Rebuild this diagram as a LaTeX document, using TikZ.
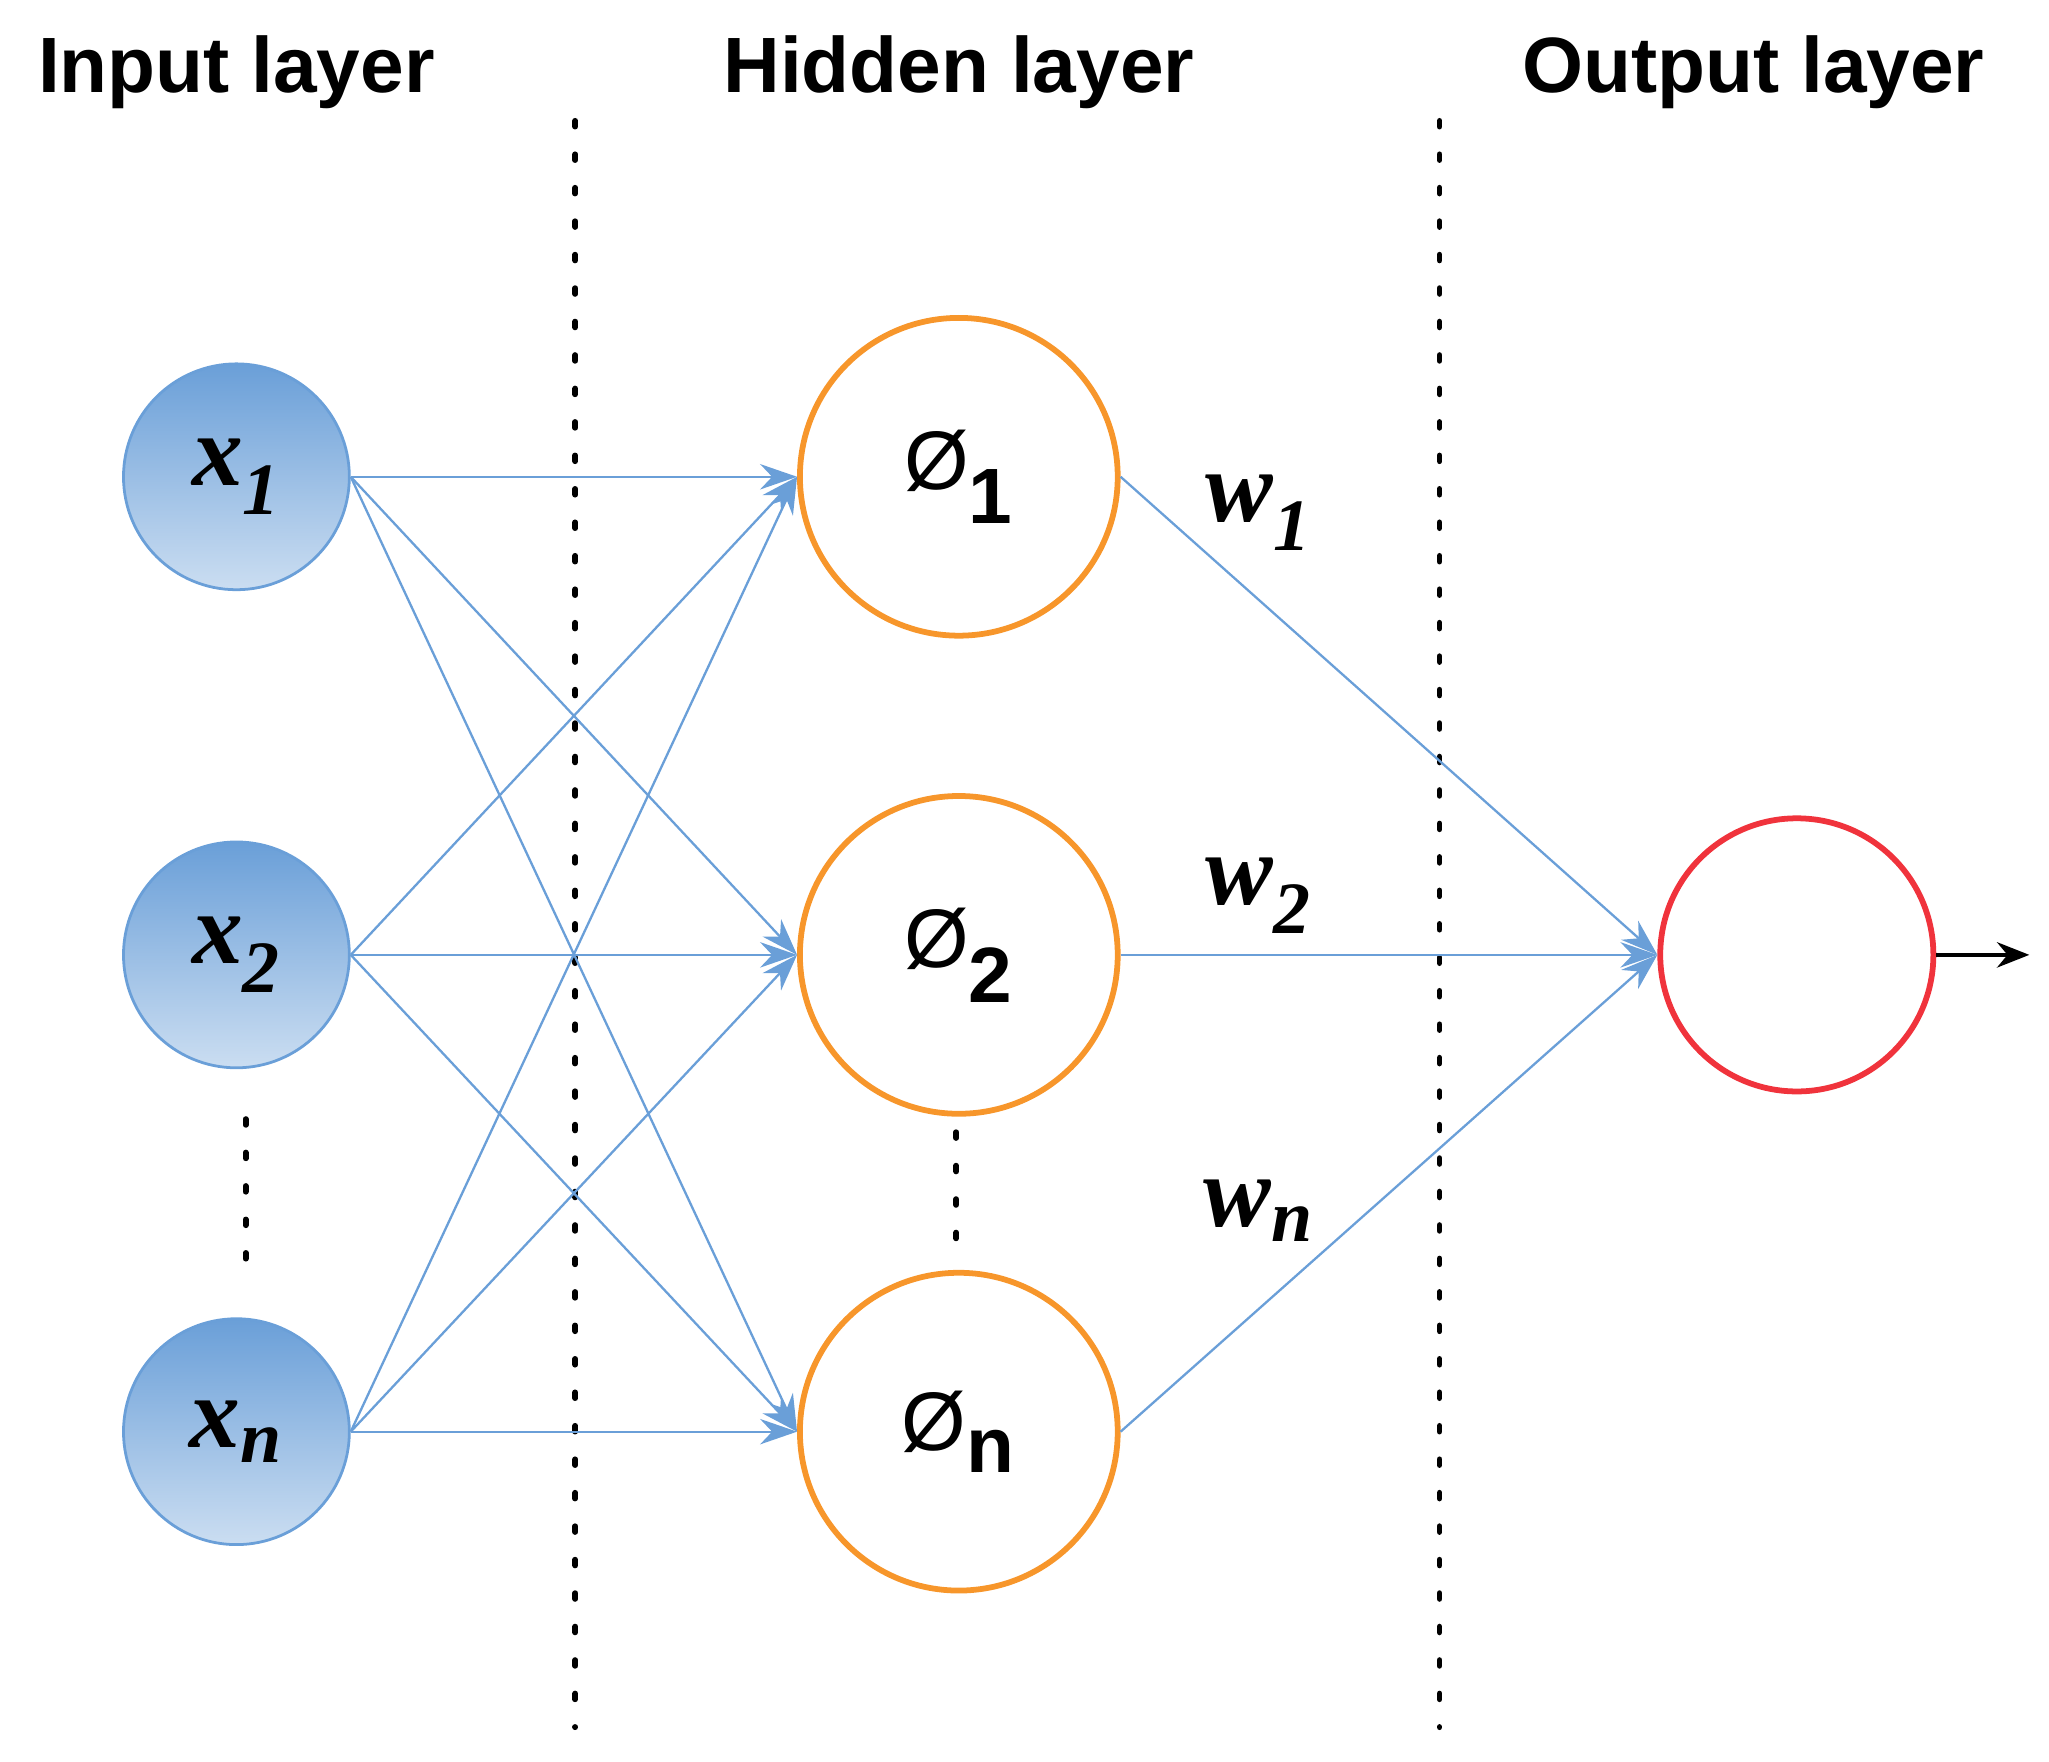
\documentclass[tikz,border=0pt]{standalone}
\usepackage{fontspec}
\setmainfont{Liberation Sans}
\newfontfamily\serf{Liberation Serif}
\usetikzlibrary{arrows.meta}
\definecolor{lb}{HTML}{6A9FD8}
\definecolor{or}{HTML}{F7962B}
\definecolor{rd}{HTML}{F0333C}
\newcommand{\vlab}[2]{{\serf\bfseries\itshape #1\textsubscript{\fontsize{32}{36}\selectfont #2}}}
\newcommand{\plab}[1]{Ø\textsubscript{\bfseries\fontsize{34}{36}\selectfont #1}}
\begin{document}
\begin{tikzpicture}[x=0.02cm,y=-0.02cm,
 inp/.style={circle,draw=lb,line width=1.2pt,minimum size=3.44cm,top color=lb,bottom color=lb!35,inner sep=0pt,font=\fontsize{44}{48}\selectfont},
 hid/.style={circle,draw=or,line width=2.5pt,minimum size=4.84cm,inner sep=0pt,font=\fontsize{36}{44}\selectfont},
 title/.style={font=\bfseries\fontsize{34}{40}\selectfont},
 wl/.style={font=\fontsize{44}{48}\selectfont},
 con/.style={draw=lb,line width=1pt,-{Stealth[length=16pt,width=11pt]}},
 sep/.style={line width=2.5pt,dash pattern=on 2.5pt off 12pt,line cap=round}]
\useasboundingbox (0,0) rectangle (1560,1341);
\node[title] (t1) at (180,55) {Input layer};
\node[title] (t2) at (730,55) {Hidden layer};
\node[title] (t3) at (1335,55) {Output layer};
\coordinate (s1a) at (438,92); \coordinate (s1b) at (438,1315);
\coordinate (s2a) at (1096,92); \coordinate (s2b) at (1096,1315);
\draw[sep] (s1a) -- (s1b);
\draw[sep] (s2a) -- (s2b);
\node[inp] (x1) at (180,363) {\vlab{x}{1}};
\node[inp] (x2) at (180,727) {\vlab{x}{2}};
\node[inp] (x3) at (180,1090) {\vlab{x}{n}};
\node[hid] (h1) at (730,363) {\plab{1}};
\node[hid] (h2) at (730,727) {\plab{2}};
\node[hid] (h3) at (730,1090) {\plab{n}};
\node[circle,draw=rd,line width=2.5pt,minimum size=4.16cm] (o) at (1368,727) {};
\coordinate (oe) at (1545,727);
\draw[line width=1.5pt,-{Stealth[length=14pt,width=11pt]}] (o.east) -- (oe);
\foreach \i in {1,2,3}{\foreach \j in {1,2,3}{\draw[con] (x\i.east) -- (h\j.west);}}
\draw[con] (h1.east) -- (o.west);
\draw[con] (h2.east) -- (o.west);
\draw[con] (h3.east) -- (o.west);
\node[wl] (w1) at (958,390) {\vlab{w}{1}};
\node[wl] (w2) at (958,682) {\vlab{w}{2}};
\node[wl] (w3) at (958,922) {\vlab{w}{n}};
\coordinate (d1a) at (187,852); \coordinate (d1b) at (187,968);
\coordinate (d2a) at (728,862); \coordinate (d2b) at (728,950);
\draw[sep] (d1a) -- (d1b);
\draw[sep] (d2a) -- (d2b);
\end{tikzpicture}
\end{document}
